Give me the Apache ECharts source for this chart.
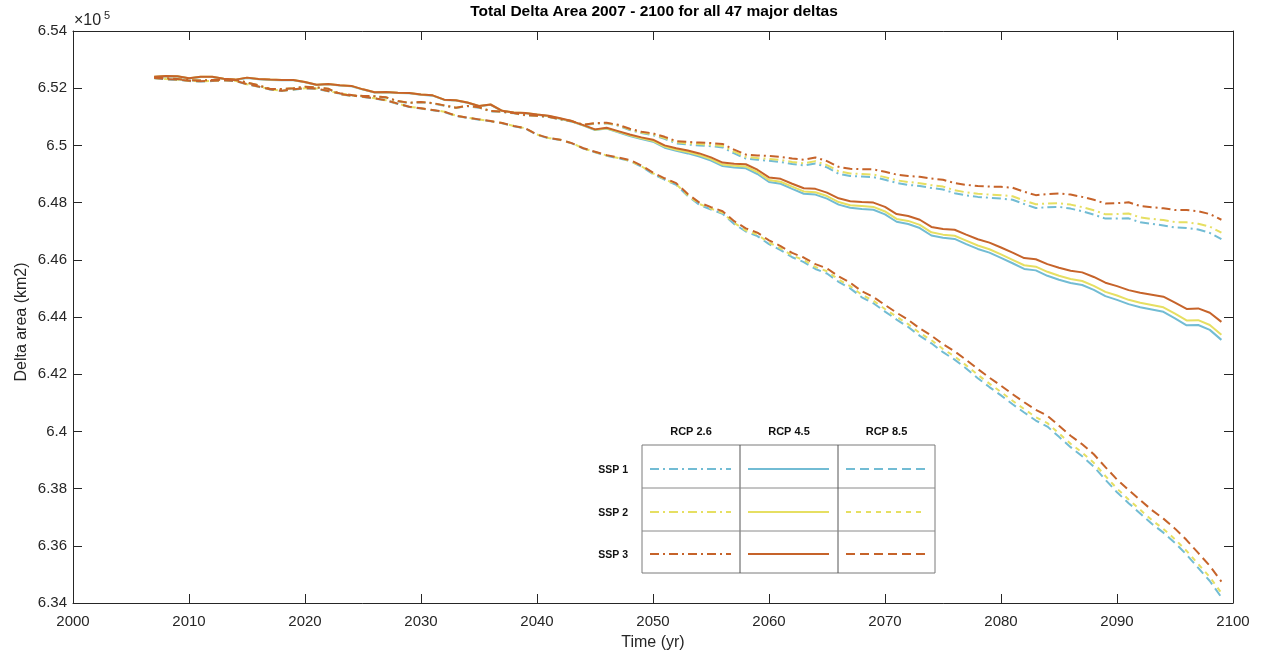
<!DOCTYPE html>
<html>
<head>
<meta charset="utf-8">
<script src="https://cdn.jsdelivr.net/npm/echarts@6/dist/echarts.min.js"></script>
<style>
html,body{margin:0;padding:0;background:#fff;}
#chart{width:1262px;height:653px;}
</style>
</head>
<body>
<div id="chart"></div>
<script>
// ---------------- DATA (delta area, in units of 10^5 km2) ----------------
const FIRST_YEAR = 2007, LAST_YEAR = 2099;
const years = [];
for (let y = FIRST_YEAR; y <= LAST_YEAR; y++) years.push(y);

const xTicks = [2000, 2010, 2020, 2030, 2040, 2050, 2060, 2070, 2080, 2090, 2100];
const yTicks = [6.34, 6.36, 6.38, 6.4, 6.42, 6.44, 6.46, 6.48, 6.5, 6.52, 6.54];

const rcpLabels = ['RCP 2.6', 'RCP 4.5', 'RCP 8.5'];
const sspLabels = ['SSP 1', 'SSP 2', 'SSP 3'];

// RCP 2.6 (dash-dot)
const ssp1_rcp26 = [6.5237,6.5234,6.5231,6.5227,6.5226,6.5228,6.5229,6.5228,6.5219,6.5209,6.5196,6.5196,6.5199,6.5204,6.5202,6.5197,6.5179,6.5173,6.5172,6.5171,6.5167,6.5154,6.5148,6.5151,6.5147,6.5139,6.5131,6.5137,6.5132,6.5119,6.5117,6.5112,6.5105,6.5103,6.5099,6.5091,6.5084,6.5071,6.5076,6.5077,6.5069,6.5054,6.5043,6.5036,6.5023,6.5007,6.5003,6.5000,6.4997,6.4993,6.4972,6.4954,6.4950,6.4946,6.4942,6.4935,6.4930,6.4937,6.4923,6.4901,6.4893,6.4891,6.4889,6.4880,6.4869,6.4862,6.4858,6.4851,6.4846,6.4833,6.4825,6.4820,6.4817,6.4814,6.4810,6.4795,6.4781,6.4784,6.4785,6.4779,6.4770,6.4758,6.4744,6.4744,6.4745,6.4731,6.4726,6.4720,6.4713,6.4711,6.4706,6.4694,6.4672];
const ssp2_rcp26 = [6.5238,6.5235,6.5232,6.5228,6.5227,6.5229,6.5230,6.5229,6.5220,6.5210,6.5197,6.5197,6.5200,6.5205,6.5203,6.5198,6.5180,6.5174,6.5173,6.5172,6.5168,6.5155,6.5149,6.5152,6.5148,6.5140,6.5132,6.5138,6.5133,6.5120,6.5118,6.5113,6.5106,6.5104,6.5100,6.5092,6.5085,6.5072,6.5077,6.5078,6.5070,6.5056,6.5045,6.5039,6.5026,6.5011,6.5007,6.5005,6.5002,6.4998,6.4978,6.4960,6.4956,6.4953,6.4949,6.4942,6.4937,6.4945,6.4931,6.4910,6.4902,6.4900,6.4898,6.4889,6.4878,6.4872,6.4868,6.4861,6.4856,6.4843,6.4836,6.4831,6.4828,6.4826,6.4822,6.4807,6.4794,6.4797,6.4798,6.4793,6.4784,6.4773,6.4759,6.4760,6.4762,6.4748,6.4743,6.4739,6.4732,6.4731,6.4726,6.4716,6.4695];
const ssp3_rcp26 = [6.5238,6.5235,6.5232,6.5228,6.5227,6.5229,6.5230,6.5229,6.5220,6.5210,6.5197,6.5197,6.5200,6.5205,6.5203,6.5198,6.5180,6.5174,6.5173,6.5172,6.5168,6.5155,6.5149,6.5152,6.5148,6.5140,6.5132,6.5138,6.5133,6.5120,6.5118,6.5113,6.5106,6.5104,6.5100,6.5092,6.5085,6.5072,6.5078,6.5079,6.5072,6.5058,6.5048,6.5042,6.5030,6.5015,6.5012,6.5010,6.5008,6.5005,6.4985,6.4968,6.4965,6.4963,6.4960,6.4954,6.4950,6.4958,6.4945,6.4925,6.4918,6.4917,6.4916,6.4908,6.4898,6.4893,6.4890,6.4884,6.4880,6.4868,6.4862,6.4858,6.4856,6.4855,6.4852,6.4838,6.4826,6.4830,6.4832,6.4828,6.4820,6.4810,6.4797,6.4798,6.4801,6.4788,6.4784,6.4780,6.4774,6.4774,6.4770,6.4760,6.4740];

// RCP 4.5 (solid)
const ssp1_rcp45 = [6.5239,6.5242,6.5241,6.5234,6.5239,6.5239,6.5232,6.5229,6.5236,6.5231,6.5229,6.5228,6.5228,6.5221,6.5211,6.5214,6.5209,6.5207,6.5195,6.5185,6.5186,6.5183,6.5182,6.5177,6.5174,6.5159,6.5157,6.5149,6.5137,6.5142,6.5120,6.5114,6.5112,6.5107,6.5102,6.5093,6.5083,6.5069,6.5054,6.5059,6.5046,6.5033,6.5022,6.5013,6.4992,6.4981,6.4972,6.4961,6.4947,6.4928,6.4923,6.4920,6.4900,6.4872,6.4866,6.4848,6.4831,6.4828,6.4814,6.4793,6.4782,6.4778,6.4775,6.4759,6.4733,6.4725,6.4711,6.4685,6.4677,6.4673,6.4655,6.4638,6.4625,6.4607,6.4588,6.4568,6.4563,6.4544,6.4530,6.4519,6.4512,6.4495,6.4473,6.4460,6.4445,6.4434,6.4426,6.4418,6.4395,6.4371,6.4372,6.4355,6.4320];
const ssp2_rcp45 = [6.5240,6.5243,6.5242,6.5235,6.5240,6.5240,6.5233,6.5230,6.5237,6.5232,6.5230,6.5229,6.5229,6.5222,6.5212,6.5215,6.5210,6.5208,6.5196,6.5186,6.5187,6.5184,6.5183,6.5178,6.5175,6.5160,6.5158,6.5150,6.5138,6.5143,6.5121,6.5115,6.5113,6.5108,6.5103,6.5094,6.5084,6.5070,6.5055,6.5060,6.5048,6.5035,6.5025,6.5016,6.4996,6.4985,6.4977,6.4966,6.4952,6.4933,6.4929,6.4926,6.4907,6.4879,6.4873,6.4856,6.4839,6.4836,6.4823,6.4802,6.4791,6.4788,6.4785,6.4769,6.4743,6.4736,6.4722,6.4696,6.4688,6.4684,6.4667,6.4650,6.4637,6.4619,6.4600,6.4581,6.4576,6.4558,6.4544,6.4533,6.4526,6.4509,6.4488,6.4475,6.4460,6.4450,6.4442,6.4434,6.4412,6.4388,6.4389,6.4372,6.4338];
const ssp3_rcp45 = [6.5240,6.5243,6.5242,6.5235,6.5240,6.5240,6.5233,6.5230,6.5237,6.5232,6.5230,6.5229,6.5229,6.5222,6.5212,6.5215,6.5210,6.5208,6.5196,6.5186,6.5187,6.5184,6.5183,6.5178,6.5175,6.5160,6.5158,6.5150,6.5138,6.5143,6.5121,6.5115,6.5113,6.5108,6.5104,6.5095,6.5085,6.5071,6.5056,6.5062,6.5050,6.5038,6.5028,6.5020,6.5000,6.4990,6.4982,6.4972,6.4958,6.4940,6.4936,6.4934,6.4915,6.4888,6.4883,6.4866,6.4850,6.4848,6.4835,6.4815,6.4805,6.4802,6.4800,6.4785,6.4760,6.4753,6.4740,6.4715,6.4708,6.4705,6.4688,6.4672,6.4660,6.4643,6.4625,6.4606,6.4602,6.4585,6.4572,6.4562,6.4556,6.4540,6.4520,6.4508,6.4494,6.4485,6.4478,6.4471,6.4450,6.4428,6.4430,6.4415,6.4383];

// RCP 8.5 (dashed)
const ssp1_rcp85 = [6.5235,6.5231,6.5229,6.5225,6.5223,6.5225,6.5227,6.5225,6.5213,6.5205,6.5195,6.5190,6.5195,6.5199,6.5198,6.5189,6.5181,6.5175,6.5169,6.5164,6.5157,6.5145,6.5134,6.5129,6.5123,6.5117,6.5103,6.5096,6.5090,6.5084,6.5077,6.5067,6.5059,6.5037,6.5025,6.5019,6.5007,6.4989,6.4976,6.4964,6.4955,6.4946,6.4926,6.4900,6.4880,6.4862,6.4823,6.4792,6.4776,6.4761,6.4725,6.4699,6.4683,6.4655,6.4634,6.4609,6.4592,6.4568,6.4552,6.4523,6.4500,6.4469,6.4448,6.4419,6.4391,6.4365,6.4334,6.4308,6.4277,6.4251,6.4220,6.4186,6.4155,6.4126,6.4095,6.4066,6.4038,6.4017,6.3981,6.3945,6.3913,6.3877,6.3831,6.3787,6.3749,6.3713,6.3677,6.3646,6.3610,6.3569,6.3523,6.3477,6.3420];
const ssp2_rcp85 = [6.5236,6.5232,6.5230,6.5226,6.5224,6.5226,6.5228,6.5226,6.5214,6.5206,6.5196,6.5191,6.5196,6.5200,6.5199,6.5190,6.5182,6.5176,6.5170,6.5165,6.5158,6.5146,6.5135,6.5130,6.5124,6.5118,6.5104,6.5097,6.5091,6.5085,6.5078,6.5068,6.5060,6.5038,6.5026,6.5020,6.5008,6.4990,6.4977,6.4965,6.4956,6.4947,6.4927,6.4902,6.4882,6.4864,6.4826,6.4795,6.4779,6.4764,6.4729,6.4703,6.4688,6.4660,6.4640,6.4615,6.4599,6.4575,6.4560,6.4531,6.4508,6.4478,6.4457,6.4428,6.4401,6.4375,6.4344,6.4319,6.4288,6.4262,6.4231,6.4198,6.4167,6.4138,6.4107,6.4078,6.4050,6.4029,6.3993,6.3957,6.3926,6.3890,6.3844,6.3800,6.3762,6.3726,6.3690,6.3659,6.3623,6.3582,6.3536,6.3491,6.3435];
const ssp3_rcp85 = [6.5236,6.5232,6.5230,6.5226,6.5224,6.5226,6.5228,6.5226,6.5214,6.5206,6.5196,6.5191,6.5196,6.5200,6.5199,6.5190,6.5182,6.5176,6.5170,6.5165,6.5158,6.5146,6.5135,6.5130,6.5124,6.5118,6.5104,6.5097,6.5091,6.5085,6.5078,6.5068,6.5060,6.5038,6.5026,6.5020,6.5008,6.4990,6.4978,6.4966,6.4958,6.4949,6.4930,6.4905,6.4885,6.4868,6.4830,6.4800,6.4784,6.4770,6.4735,6.4710,6.4695,6.4668,6.4648,6.4624,6.4608,6.4585,6.4570,6.4542,6.4520,6.4490,6.4470,6.4442,6.4415,6.4390,6.4360,6.4335,6.4305,6.4280,6.4250,6.4218,6.4188,6.4160,6.4130,6.4102,6.4075,6.4055,6.4020,6.3985,6.3955,6.3920,6.3875,6.3832,6.3795,6.3760,6.3725,6.3695,6.3660,6.3620,6.3575,6.3530,6.3475];

// ---------------- STYLE ----------------
const FONT = '"Liberation Sans", Arial, Helvetica, sans-serif';
const AXC = '#262626';
const COLORS = ['#72BCD4', '#E6DF62', '#C6632A'];      // SSP1, SSP2, SSP3
const DASHES = [                                         // [rcp][ssp]
  [[9,4,2,4],[9,4,2,4],[9,4,2,4]],
  ['solid','solid','solid'],
  [[9,5],[5,5],[9,5]]
];
const SERIES_DATA = [
  [ssp1_rcp26, ssp1_rcp45, ssp1_rcp85],
  [ssp2_rcp26, ssp2_rcp45, ssp2_rcp85],
  [ssp3_rcp26, ssp3_rcp45, ssp3_rcp85]
];

const series = [];
SERIES_DATA.forEach((row, s) => {
  row.forEach((vals, r) => {
    series.push({
      name: sspLabels[s] + ' ' + rcpLabels[r],
      type: 'line',
      data: years.map((y, i) => [y, vals[i]]),
      showSymbol: false,
      symbol: 'none',
      silent: true,
      z: 2 + s,
      lineStyle: { color: COLORS[s], width: 2, type: DASHES[r][s] }
    });
  });
});

function fmtY(v) { return String(parseFloat(Number(v).toFixed(2))); }
function fmtX(v) { return String(Math.round(v)); }

const axisCommon = {
  axisLine: { show: true, lineStyle: { color: AXC, width: 1 } },
  axisTick: { show: true, inside: true, length: 9, lineStyle: { color: AXC } },
  splitLine: { show: false }
};

// ---------------- LEGEND TABLE (graphic) ----------------
const T = { left: 642, top: 445, colW: [98, 98, 97], rowH: [43, 43, 42] };
const colX = [T.left, T.left + T.colW[0], T.left + T.colW[0] + T.colW[1], T.left + T.colW[0] + T.colW[1] + T.colW[2]];
const rowY = [T.top, T.top + T.rowH[0], T.top + T.rowH[0] + T.rowH[1], T.top + T.rowH[0] + T.rowH[1] + T.rowH[2]];
const graphics = [];
graphics.push({ type: 'rect', shape: { x: colX[0], y: rowY[0], width: colX[3] - colX[0], height: rowY[3] - rowY[0] },
  style: { fill: '#fff', stroke: '#7a7a7a', lineWidth: 1 }, z: 100 });
[1, 2].forEach(i => {
  graphics.push({ type: 'line', shape: { x1: colX[i], y1: rowY[0], x2: colX[i], y2: rowY[3] }, style: { stroke: '#555', lineWidth: 1 }, z: 101 });
  graphics.push({ type: 'line', shape: { x1: colX[0], y1: rowY[i], x2: colX[3], y2: rowY[i] }, style: { stroke: '#8a8a8a', lineWidth: 1 }, z: 101 });
});
rcpLabels.forEach((t, c) => {
  graphics.push({ type: 'text', x: (colX[c] + colX[c + 1]) / 2, y: 432, z: 101,
    style: { text: t, fontFamily: FONT, fontSize: 11, fontWeight: 'bold', fill: '#111', textAlign: 'center', textVerticalAlign: 'middle' } });
});
sspLabels.forEach((t, s) => {
  const cy = Math.round((rowY[s] + rowY[s + 1]) / 2) + 2;
  graphics.push({ type: 'text', x: 628, y: cy + 1, z: 101,
    style: { text: t, fontFamily: FONT, fontSize: 10.5, fontWeight: 'bold', fill: '#111', textAlign: 'right', textVerticalAlign: 'middle' } });
  for (let c = 0; c < 3; c++) {
    const d = DASHES[c][s];
    graphics.push({ type: 'line', z: 102,
      shape: { x1: colX[c] + 8, y1: cy, x2: colX[c + 1] - 9, y2: cy },
      style: { stroke: COLORS[s], lineWidth: 2, lineDash: d === 'solid' ? null : d } });
  }
});
// title, axis names, exponent
graphics.push({ type: 'text', x: 654, y: 12, z: 101,
  style: { text: 'Total Delta Area 2007 - 2100 for all 47 major deltas', fontFamily: FONT, fontSize: 15.5, fontWeight: 'bold', fill: '#000', textAlign: 'center', textVerticalAlign: 'middle' } });
graphics.push({ type: 'text', x: 653, y: 643, z: 101,
  style: { text: 'Time (yr)', fontFamily: FONT, fontSize: 16, fill: AXC, textAlign: 'center', textVerticalAlign: 'middle' } });
graphics.push({ type: 'text', x: 22, y: 322, rotation: Math.PI / 2, z: 101,
  style: { text: 'Delta area (km2)', fontFamily: FONT, fontSize: 16, fill: AXC, textAlign: 'center', textVerticalAlign: 'middle' } });
graphics.push({ type: 'text', x: 74, y: 29, z: 101,
  style: { text: '×10', fontFamily: FONT, fontSize: 16, fill: AXC, textAlign: 'left', textVerticalAlign: 'bottom' } });
graphics.push({ type: 'text', x: 104, y: 21, z: 101,
  style: { text: '5', fontFamily: FONT, fontSize: 11, fill: AXC, textAlign: 'left', textVerticalAlign: 'bottom' } });

const chart = echarts.init(document.getElementById('chart'), null, { renderer: 'canvas' });
chart.setOption({
  animation: false,
  backgroundColor: '#fff',
  textStyle: { fontFamily: FONT },
  grid: { left: 73, right: 29, top: 31, bottom: 50, containLabel: false },
  xAxis: [
    Object.assign({ type: 'value', position: 'bottom', min: xTicks[0], max: xTicks[xTicks.length - 1], interval: 10,
      axisLabel: { color: AXC, fontSize: 15, fontFamily: FONT, margin: 11, formatter: fmtX } }, axisCommon),
    Object.assign({ type: 'value', position: 'top', min: xTicks[0], max: xTicks[xTicks.length - 1], interval: 10,
      axisLabel: { show: false } }, axisCommon)
  ],
  yAxis: [
    Object.assign({ type: 'value', position: 'left', min: yTicks[0], max: yTicks[yTicks.length - 1], interval: 0.02,
      axisLabel: { color: AXC, fontSize: 15, fontFamily: FONT, margin: 6, formatter: fmtY } }, axisCommon),
    Object.assign({ type: 'value', position: 'right', min: yTicks[0], max: yTicks[yTicks.length - 1], interval: 0.02,
      axisLabel: { show: false } }, axisCommon)
  ],
  series: series,
  graphic: graphics
});
</script>
</body>
</html>
